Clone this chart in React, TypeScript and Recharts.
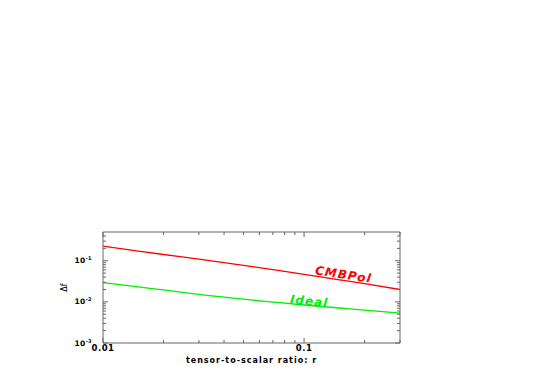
import { LineChart, Line, XAxis, YAxis, ReferenceDot, Label } from "recharts";

// tensor-to-scalar ratio r
const ratios = [0.01, 0.015, 0.02, 0.03, 0.05, 0.07, 0.1, 0.15, 0.2, 0.3];
const cmbpol = [0.226, 0.172, 0.142, 0.109, 0.077, 0.0607, 0.0465, 0.0344, 0.0277, 0.02];
const ideal = [0.0295, 0.0231, 0.0195, 0.0152, 0.0116, 0.0099, 0.0084, 0.0071, 0.0063, 0.0053];

const xTicks = [0.01, 0.02, 0.03, 0.04, 0.05, 0.06, 0.07, 0.08, 0.09, 0.1, 0.2, 0.3];
const xMajor = [0.01, 0.1];
const yTicks = [
  0.001, 0.002, 0.003, 0.004, 0.005, 0.006, 0.007, 0.008, 0.009,
  0.01, 0.02, 0.03, 0.04, 0.05, 0.06, 0.07, 0.08, 0.09,
  0.1, 0.2, 0.3, 0.4,
];
const yMajor = [0.001, 0.01, 0.1];
const yMajorExp: Record<string, string> = { "0.001": "-3", "0.01": "-2", "0.1": "-1" };

const data = ratios.map((r, i) => ({ r, cmbpol: cmbpol[i], ideal: ideal[i] }));

const FONT = "'DejaVu Sans', Arial, sans-serif";
const FRAME = "#666";

const BottomTick = (props: any) => {
  const { x, y, payload } = props;
  const major = xMajor.includes(payload.value);
  return (
    <g>
      <line x1={x} x2={x} y1={y} y2={y - (major ? 5 : 3)} stroke={FRAME} />
      {major && (
        <text x={x} y={y + 7.5} textAnchor="middle" fontFamily={FONT} fontWeight="bold" fontSize={8.5} letterSpacing={0.5} fill="#000">
          {String(payload.value)}
        </text>
      )}
    </g>
  );
};

const TopTick = (props: any) => {
  const { x, y, payload } = props;
  const major = xMajor.includes(payload.value);
  return <line x1={x} x2={x} y1={y} y2={y + (major ? 5 : 3)} stroke={FRAME} />;
};

const LeftTick = (props: any) => {
  const { x, y, payload } = props;
  const major = yMajor.includes(payload.value);
  return (
    <g>
      <line x1={x} x2={x + (major ? 5 : 3)} y1={y} y2={y} stroke={FRAME} />
      {major && (
        <text x={x - 11} y={y + 2.5} textAnchor="end" fontFamily={FONT} fontWeight="bold" fontSize={7.5} letterSpacing={0.4} fill="#000">
          <tspan>10</tspan>
          <tspan dy={-3} fontSize={5}>{yMajorExp[String(payload.value)]}</tspan>
        </text>
      )}
    </g>
  );
};

const RightTick = (props: any) => {
  const { x, y, payload } = props;
  const major = yMajor.includes(payload.value);
  return <line x1={x} x2={x - (major ? 5 : 3)} y1={y} y2={y} stroke={FRAME} />;
};

const seriesLabel = (text: string, color: string, angle: number) => (props: any) => {
  const vb = props.viewBox;
  const cx = vb.x + vb.width / 2;
  const cy = vb.y + vb.height / 2;
  return (
    <text
      x={cx}
      y={cy}
      textAnchor="middle"
      dominantBaseline="central"
      transform={`rotate(${angle} ${cx} ${cy})`}
      fontFamily={FONT}
      fontWeight="bold"
      fontStyle="italic"
      fontSize={12}
      letterSpacing={1}
      fill={color}
    >
      {text}
    </text>
  );
};

export default function App() {
  return (
    <div style={{ position: "absolute", left: 0, top: 0, width: 545, height: 382, background: "#fff" }}>
      <LineChart width={545} height={382} data={data} margin={{ top: 222, right: 135, bottom: 9, left: 63 }}>
        <XAxis
          dataKey="r"
          type="number"
          scale="log"
          domain={[0.01, 0.3]}
          allowDataOverflow
          ticks={xTicks}
          interval={0}
          tick={<BottomTick />}
          tickLine={false}
          tickSize={0}
          tickMargin={0}
          height={30}
          axisLine={{ stroke: FRAME }}
        >
          <Label
            content={(p: any) => (
              <text
                x={p.viewBox.x + p.viewBox.width / 2}
                y={p.viewBox.y + 19.5}
                textAnchor="middle"
                fontFamily={FONT}
                fontWeight="bold"
                fontSize={8}
                letterSpacing={1}
                fill="#000"
              >
                tensor-to-scalar ratio: r
              </text>
            )}
          />
        </XAxis>
        <XAxis
          xAxisId="top"
          orientation="top"
          dataKey="r"
          type="number"
          scale="log"
          domain={[0.01, 0.3]}
          allowDataOverflow
          ticks={xTicks}
          interval={0}
          tick={<TopTick />}
          tickLine={false}
          tickSize={0}
          tickMargin={0}
          height={10}
          axisLine={{ stroke: FRAME }}
        />
        <YAxis
          type="number"
          scale="log"
          domain={[0.001, 0.5]}
          allowDataOverflow
          ticks={yTicks}
          interval={0}
          tick={<LeftTick />}
          tickLine={false}
          tickSize={0}
          tickMargin={0}
          width={40}
          axisLine={{ stroke: FRAME }}
        >
          <Label
            content={(p: any) => {
              const x = p.viewBox.x + 1.5;
              const y = p.viewBox.y + p.viewBox.height / 2;
              return (
                <text
                  x={x}
                  y={y}
                  textAnchor="middle"
                  dominantBaseline="central"
                  transform={`rotate(-90 ${x} ${y})`}
                  fontFamily={FONT}
                  fontSize={8}
                  fill="#000"
                >
                  Δf
                </text>
              );
            }}
          />
        </YAxis>
        <YAxis
          yAxisId="right"
          orientation="right"
          type="number"
          scale="log"
          domain={[0.001, 0.5]}
          allowDataOverflow
          ticks={yTicks}
          interval={0}
          tick={<RightTick />}
          tickLine={false}
          tickSize={0}
          tickMargin={0}
          width={10}
          axisLine={{ stroke: FRAME }}
        />
        <Line type="monotone" dataKey="cmbpol" stroke="#ff0000" strokeWidth={1.3} dot={false} isAnimationActive={false} />
        <Line type="monotone" dataKey="ideal" stroke="#00ee00" strokeWidth={1.3} dot={false} isAnimationActive={false} />
        <ReferenceDot x={0.157} y={0.046} r={1} fill="none" stroke="none">
          <Label content={seriesLabel("CMBPol", "#ff0000", 8.5)} />
        </ReferenceDot>
        <ReferenceDot x={0.106} y={0.0104} r={1} fill="none" stroke="none">
          <Label content={seriesLabel("Ideal", "#00ee00", 5.5)} />
        </ReferenceDot>
      </LineChart>
    </div>
  );
}
